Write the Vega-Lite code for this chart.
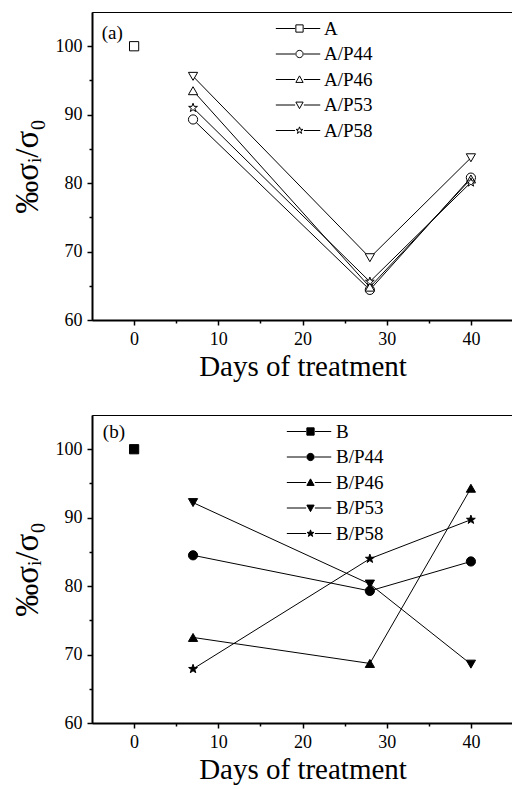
{
  "$schema": "https://vega.github.io/schema/vega-lite/v6.json",
  "background": "white",
  "padding": {"left": 10, "top": 11, "right": 0, "bottom": 0},
  "spacing": 32,
  "config": {
    "font": "Liberation Serif",
    "view": {"stroke": "black", "strokeWidth": 1},
    "axis": {
      "grid": false,
      "domainColor": "black",
      "domainWidth": 2,
      "tickColor": "black",
      "tickWidth": 1.5,
      "labelFont": "Liberation Serif",
      "labelFontSize": 18,
      "labelColor": "black",
      "titleFont": "Liberation Serif",
      "titleFontSize": 29,
      "titleFontWeight": "normal",
      "titleColor": "black"
    },
    "legend": {
      "orient": "none",
      "title": null,
      "padding": 0,
      "labelFont": "Liberation Serif",
      "labelFontSize": 19,
      "labelColor": "black",
      "rowPadding": 5.5,
      "symbolSize": 53,
      "symbolStrokeWidth": 1
    }
  },
  "datasets": {
    "pts": [
      {"panel": "a", "series": "A", "day": 0, "value": 100},
      {"panel": "a", "series": "A/P44", "day": 7, "value": 89.3},
      {"panel": "a", "series": "A/P44", "day": 28, "value": 64.4},
      {"panel": "a", "series": "A/P44", "day": 40, "value": 80.8},
      {"panel": "a", "series": "A/P46", "day": 7, "value": 93.5},
      {"panel": "a", "series": "A/P46", "day": 28, "value": 64.8},
      {"panel": "a", "series": "A/P46", "day": 40, "value": 80.6},
      {"panel": "a", "series": "A/P53", "day": 7, "value": 95.6},
      {"panel": "a", "series": "A/P53", "day": 28, "value": 69.1},
      {"panel": "a", "series": "A/P53", "day": 40, "value": 83.7},
      {"panel": "a", "series": "A/P58", "day": 7, "value": 91.0},
      {"panel": "a", "series": "A/P58", "day": 28, "value": 65.6},
      {"panel": "a", "series": "A/P58", "day": 40, "value": 80.1},
      {"panel": "b", "series": "B", "day": 0, "value": 100},
      {"panel": "b", "series": "B/P44", "day": 7, "value": 84.5},
      {"panel": "b", "series": "B/P44", "day": 28, "value": 79.3},
      {"panel": "b", "series": "B/P44", "day": 40, "value": 83.6},
      {"panel": "b", "series": "B/P46", "day": 7, "value": 72.5},
      {"panel": "b", "series": "B/P46", "day": 28, "value": 68.7},
      {"panel": "b", "series": "B/P46", "day": 40, "value": 94.3},
      {"panel": "b", "series": "B/P53", "day": 7, "value": 92.2},
      {"panel": "b", "series": "B/P53", "day": 28, "value": 80.3},
      {"panel": "b", "series": "B/P53", "day": 40, "value": 68.6},
      {"panel": "b", "series": "B/P58", "day": 7, "value": 67.9},
      {"panel": "b", "series": "B/P58", "day": 28, "value": 84.0},
      {"panel": "b", "series": "B/P58", "day": 40, "value": 89.7}
    ]
  },
  "vconcat": [
    {
      "width": 421,
      "height": 308,
      "data": {"name": "pts"},
      "transform": [{"filter": "datum.panel === 'a'"}],
      "encoding": {
        "x": {
          "field": "day", "type": "quantitative",
          "scale": {"domain": [-5, 45], "nice": false, "zero": false},
          "axis": {
            "title": "Days of treatment",
            "values": [0, 5, 10, 15, 20, 25, 30, 35, 40],
            "labelExpr": "datum.value % 10 === 0 ? datum.label : ''",
            "tickSize": {"condition": {"test": "datum.value % 10 === 0", "value": 5}, "value": 3},
            "labelPadding": 5,
            "titlePadding": 4
          }
        },
        "y": {
          "field": "value", "type": "quantitative",
          "scale": {"domain": [60, 105], "nice": false, "zero": false},
          "axis": {
            "title": "‰σᵢ/σ₀",
            "titleFontSize": 33,
            "values": [60, 65, 70, 75, 80, 85, 90, 95, 100],
            "labelExpr": "datum.value % 10 === 0 ? datum.label : ''",
            "tickSize": {"condition": {"test": "datum.value % 10 === 0", "value": 5}, "value": 3},
            "labelPadding": 5,
            "titlePadding": 11
          }
        }
      },
      "layer": [
        {
          "mark": {"type": "line", "color": "black", "strokeWidth": 1},
          "encoding": {"detail": {"field": "series"}}
        },
        {
          "mark": {"type": "point", "filled": true, "fill": "white", "stroke": "black", "strokeWidth": 1, "size": 85, "opacity": 1},
          "encoding": {
            "shape": {
              "field": "series",
              "scale": {
                "domain": ["A", "A/P44", "A/P46", "A/P53", "A/P58"],
                "range": ["square", "circle", "triangle-up", "triangle-down", "M0,-1L0.235,-0.324L0.951,-0.309L0.38,0.124L0.588,0.809L0,0.4L-0.588,0.809L-0.38,0.124L-0.951,-0.309L-0.235,-0.324Z"]
              },
              "legend": null
            }
          }
        },
        {
          "transform": [{"filter": "datum.value < 0"}],
          "mark": {"type": "point", "filled": true, "fill": "white", "stroke": "black", "strokeWidth": 1, "opacity": 1},
          "encoding": {
            "shape": {
              "field": "series",
              "scale": {
                "domain": ["A", "A/P44", "A/P46", "A/P53", "A/P58"],
                "range": [
                  "M-6.5,0H-1.2M-1,-1H1V1H-1ZM1.2,0H5.7",
                  "M-6.5,0H-1.2M1,0C1,0.552,0.552,1,0,1C-0.552,1,-1,0.552,-1,0C-1,-0.552,-0.552,-1,0,-1C0.552,-1,1,-0.552,1,0ZM1.2,0H5.7",
                  "M-6.5,0H-1.2M0,-1L1,0.8H-1ZM1.2,0H5.7",
                  "M-6.5,0H-1.2M0,1L1,-0.8H-1ZM1.2,0H5.7",
                  "M-6.5,0H-1.2M0,-1L0.235,-0.324L0.951,-0.309L0.38,0.124L0.588,0.809L0,0.4L-0.588,0.809L-0.38,0.124L-0.951,-0.309L-0.235,-0.324ZM1.2,0H5.7"
                ]
              },
              "legend": {"legendX": 198, "legendY": 7, "labelOffset": 15}
            }
          }
        },
        {
          "transform": [{"filter": "datum.series === 'A'"}],
          "mark": {"type": "text", "font": "Liberation Serif", "fontSize": 19, "fontWeight": "normal", "color": "black"},
          "encoding": {
            "x": {"datum": -2.6},
            "y": {"datum": 102},
            "text": {"value": "(a)"}
          }
        }
      ],
      "resolve": {"scale": {"shape": "independent"}, "legend": {"shape": "independent"}}
    },
    {
      "width": 421,
      "height": 308,
      "data": {"name": "pts"},
      "transform": [{"filter": "datum.panel === 'b'"}],
      "encoding": {
        "x": {
          "field": "day", "type": "quantitative",
          "scale": {"domain": [-5, 45], "nice": false, "zero": false},
          "axis": {
            "title": "Days of treatment",
            "values": [0, 5, 10, 15, 20, 25, 30, 35, 40],
            "labelExpr": "datum.value % 10 === 0 ? datum.label : ''",
            "tickSize": {"condition": {"test": "datum.value % 10 === 0", "value": 5}, "value": 3},
            "labelPadding": 5,
            "titlePadding": 4
          }
        },
        "y": {
          "field": "value", "type": "quantitative",
          "scale": {"domain": [60, 105], "nice": false, "zero": false},
          "axis": {
            "title": "‰σᵢ/σ₀",
            "titleFontSize": 33,
            "values": [60, 65, 70, 75, 80, 85, 90, 95, 100],
            "labelExpr": "datum.value % 10 === 0 ? datum.label : ''",
            "tickSize": {"condition": {"test": "datum.value % 10 === 0", "value": 5}, "value": 3},
            "labelPadding": 5,
            "titlePadding": 11
          }
        }
      },
      "layer": [
        {
          "mark": {"type": "line", "color": "black", "strokeWidth": 1},
          "encoding": {"detail": {"field": "series"}}
        },
        {
          "mark": {"type": "point", "filled": true, "fill": "black", "stroke": "black", "strokeWidth": 1, "size": 85, "opacity": 1},
          "encoding": {
            "shape": {
              "field": "series",
              "scale": {
                "domain": ["B", "B/P44", "B/P46", "B/P53", "B/P58"],
                "range": ["square", "circle", "triangle-up", "triangle-down", "M0,-1L0.235,-0.324L0.951,-0.309L0.38,0.124L0.588,0.809L0,0.4L-0.588,0.809L-0.38,0.124L-0.951,-0.309L-0.235,-0.324Z"]
              },
              "legend": null
            }
          }
        },
        {
          "transform": [{"filter": "datum.value < 0"}],
          "mark": {"type": "point", "filled": true, "fill": "black", "stroke": "black", "strokeWidth": 1, "opacity": 1},
          "encoding": {
            "shape": {
              "field": "series",
              "scale": {
                "domain": ["B", "B/P44", "B/P46", "B/P53", "B/P58"],
                "range": [
                  "M-6.5,0H-1.2M-1,-1H1V1H-1ZM1.2,0H5.7",
                  "M-6.5,0H-1.2M1,0C1,0.552,0.552,1,0,1C-0.552,1,-1,0.552,-1,0C-1,-0.552,-0.552,-1,0,-1C0.552,-1,1,-0.552,1,0ZM1.2,0H5.7",
                  "M-6.5,0H-1.2M0,-1L1,0.8H-1ZM1.2,0H5.7",
                  "M-6.5,0H-1.2M0,1L1,-0.8H-1ZM1.2,0H5.7",
                  "M-6.5,0H-1.2M0,-1L0.235,-0.324L0.951,-0.309L0.38,0.124L0.588,0.809L0,0.4L-0.588,0.809L-0.38,0.124L-0.951,-0.309L-0.235,-0.324ZM1.2,0H5.7"
                ]
              },
              "legend": {"legendX": 209, "legendY": 7, "labelOffset": 16}
            }
          }
        },
        {
          "transform": [{"filter": "datum.series === 'B'"}],
          "mark": {"type": "text", "font": "Liberation Serif", "fontSize": 19, "fontWeight": "normal", "color": "black"},
          "encoding": {
            "x": {"datum": -2.4},
            "y": {"datum": 102.5},
            "text": {"value": "(b)"}
          }
        }
      ],
      "resolve": {"scale": {"shape": "independent"}, "legend": {"shape": "independent"}}
    }
  ]
}
